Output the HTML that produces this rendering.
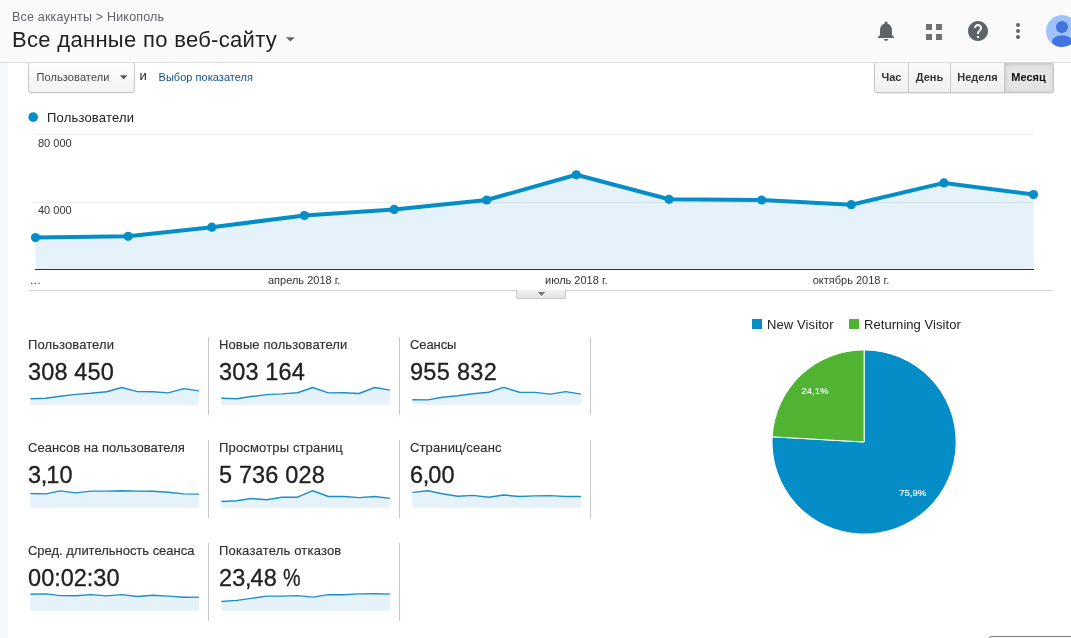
<!DOCTYPE html>
<html lang="ru"><head><meta charset="utf-8"><title>Analytics</title>
<style>
html,body{margin:0;padding:0}
body{width:1071px;height:638px;overflow:hidden;background:#fff;position:relative;font-family:"Liberation Sans",sans-serif;color:#222}
.abs{position:absolute;white-space:nowrap}
#hdr{position:absolute;left:0;top:0;width:1071px;height:62px;background:#fafafa}
#hb{position:absolute;left:0;top:62px;width:1071px;height:1px;background:#dadce0;z-index:5}
#strip{position:absolute;left:0;top:63px;width:8px;height:575px;background:#f7f8fa}
#crumb{left:12px;top:9px;font-size:12.5px;line-height:16px;color:#5f6368;letter-spacing:.19px}
#title{left:12px;top:26px;font-size:22px;line-height:28px;color:#202124;letter-spacing:.31px}
#dd{left:28px;top:62px;width:105px;height:29px;border:1px solid #c8c8c8;border-radius:3px;background:linear-gradient(#fefefe,#f2f2f2);box-shadow:0 1px 1px rgba(0,0,0,.06)}
#ddt{left:36.5px;top:70px;font-size:11px;line-height:14px;color:#444;letter-spacing:.1px}
#and{left:139.5px;top:69px;font-size:13px;line-height:14px;color:#222}
#lnk{left:158.5px;top:70px;font-size:11px;line-height:14px;color:#11508f;letter-spacing:.04px}
#seg{left:874px;top:62px;height:29px;width:178px;border:1px solid #c6c6c6;border-radius:3px;background:linear-gradient(#fafafa,#f0f0f0);box-shadow:0 1px 1px rgba(0,0,0,.08);overflow:hidden}
#seg i{position:absolute;top:0;width:1px;height:29px;background:#c9c9c9}
#seg b{position:absolute;left:130px;top:0;width:49px;height:29px;background:#e4e4e4;box-shadow:inset 0 1px 4px rgba(0,0,0,.18)}
.sb{position:absolute;top:63px;z-index:2;height:29px;font-size:11px;font-weight:bold;line-height:29px;text-align:center;color:#333}
#leg{left:47px;top:110px;font-size:13px;line-height:16px;color:#222;letter-spacing:.19px}
.ax{font-size:11px;line-height:13px;color:#333}
.tile{position:absolute;width:180px;height:78px;border-right:1px solid #c8c8c8}
.tl{position:absolute;left:0;top:0;font-size:13px;line-height:16px;color:#303030;white-space:nowrap;-webkit-text-stroke:.15px #303030}
.tv{position:absolute;left:0;top:20px;font-size:23.5px;line-height:30px;color:#212121;white-space:nowrap;letter-spacing:.15px;-webkit-text-stroke:.3px #212121}
.t0{letter-spacing:0.1px}.t1{letter-spacing:0.12px}.t2{letter-spacing:-0.1px}.t3{letter-spacing:0.05px}.t4{letter-spacing:0.16px}.t5{letter-spacing:0.13px}.t6{letter-spacing:-0.02px}.t7{letter-spacing:0.19px}
.tv s{text-decoration:none;margin:0 -1.3px 0 -.4px}.tv u{text-decoration:none;margin:0 -.25px}.tv i{font-style:normal;display:inline-block;transform:scaleX(.84);transform-origin:0 50%}.tv em{font-style:normal;margin-right:-.4px}.v2{letter-spacing:.3px}
svg{position:absolute;left:0;top:0}
.sa{fill:#e6f2fa}.sl{fill:none;stroke:#1a8fc9;stroke-width:1.45;stroke-linejoin:round}
.pl{font-size:13px;line-height:16px;color:#222}
.pp{font-size:9.5px;line-height:11px;color:#fff;-webkit-text-stroke:.2px #fff}
#tab{left:516px;top:290px;width:48px;height:8px;border:1px solid #c9c9c9;border-top:0;border-radius:0 0 2px 2px;background:linear-gradient(#f1f1f1,#e3e3e3)}
</style></head><body>
<div id="hdr"></div><div id="hb"></div>
<div id="strip"></div>
<div id="crumb" class="abs">Все аккаунты &gt; Никополь</div>
<div id="title" class="abs">Все данные по веб-сайту</div>

<div id="dd" class="abs"></div>
<div id="ddt" class="abs">Пользователи</div>
<div id="and" class="abs">и</div>
<div id="lnk" class="abs">Выбор показателя</div>

<div id="seg" class="abs"><b></b><i style="left:33px"></i><i style="left:75px"></i><i style="left:129px"></i></div>
<div class="sb" style="left:875px;width:33px">Час</div>
<div class="sb" style="left:909px;width:41px">День</div>
<div class="sb" style="left:951px;width:53px">Неделя</div>
<div class="sb" style="left:1005px;width:47px;color:#111">Месяц</div>

<div id="tab" class="abs"></div>
<div id="leg" class="abs">Пользователи</div>
<div class="abs ax" style="left:38px;top:137px">80 000</div>
<div class="abs ax" style="left:38px;top:204px">40 000</div>
<div class="abs ax" style="left:30.3px;top:274px;letter-spacing:.5px">...</div>
<div class="abs ax" style="left:268px;top:274px">апрель 2018 г.</div>
<div class="abs ax" style="left:545px;top:274px">июль 2018 г.</div>
<div class="abs ax" style="left:812.7px;top:274px">октябрь 2018 г.</div>

<svg width="1071" height="638" viewBox="0 0 1071 638">
 <!-- header icons -->
 <g id="icons">
  <path d="M286 37.2h8.8l-4.4 4.4z" fill="#5f6368"/>
  <g transform="translate(874,19)" fill="#5f6368"><path d="M12 22c1.1 0 2-.9 2-2h-4c0 1.1.89 2 2 2zm6-6v-5c0-3.070-1.640-5.640-4.500-6.320V4c0-.830-.670-1.500-1.500-1.500s-1.500.670-1.500 1.500v.680C7.630 5.360 6 7.920 6 11v5l-2 2v1h16v-1l-2-2z"/></g>
  <g fill="#717171"><rect x="926" y="24" width="6" height="6"/><rect x="936" y="24" width="6" height="6"/><rect x="926" y="34" width="6" height="6"/><rect x="936" y="34" width="6" height="6"/></g>
  <g transform="translate(966,19)" fill="#5f6368"><path d="M12 2C6.480 2 2 6.480 2 12s4.480 10 10 10 10-4.480 10-10S17.520 2 12 2zm1 17h-2v-2h2v2zm2.070-7.750l-.9.920C13.450 12.900 13 13.500 13 15h-2v-.500c0-1.100.450-2.100 1.170-2.830l1.240-1.260c.370-.360.590-.860.590-1.410 0-1.100-.9-2-2-2s-2 .9-2 2H8c0-2.210 1.790-4 4-4s4 1.790 4 4c0 .880-.360 1.680-.930 2.250z"/></g>
  <g fill="#5f6368"><circle cx="1018" cy="25" r="2"/><circle cx="1018" cy="31" r="2"/><circle cx="1018" cy="37" r="2"/></g>
  <clipPath id="av"><circle cx="1062" cy="31" r="16"/></clipPath>
  <circle cx="1062" cy="31" r="16" fill="#a0c3ff"/>
  <g clip-path="url(#av)" fill="#4374e0"><circle cx="1062" cy="27" r="6.100"/><ellipse cx="1062" cy="41.500" rx="10" ry="6.200"/></g>
 </g>
 <!-- main chart -->
 <rect x="35" y="134" width="999" height="1" fill="#ececec"/>
 <polygon points="35.5,269.2 35.5,237.6 128.1,236.3 211.8,227.2 304.4,215.5 394.1,209.4 486.7,200.0 576.3,174.8 669.0,199.3 761.6,200.0 851.2,204.7 943.9,182.9 1033.5,194.6 1033.5,269.2" fill="#e6f2fa"/>
 <rect x="35" y="202" width="999" height="1" fill="#000" opacity=".075"/>
 <rect x="35" y="269" width="999" height="1" fill="#333"/>
 <polyline points="35.5,237.6 128.1,236.3 211.8,227.2 304.4,215.5 394.1,209.4 486.7,200.0 576.3,174.8 669.0,199.3 761.6,200.0 851.2,204.7 943.9,182.9 1033.5,194.6" fill="none" stroke="#058dc7" stroke-width="4" stroke-linejoin="round"/>
 <g fill="#058dc7"><circle cx="35.5" cy="237.6" r="4.6"/><circle cx="128.1" cy="236.3" r="4.6"/><circle cx="211.8" cy="227.2" r="4.6"/><circle cx="304.4" cy="215.5" r="4.6"/><circle cx="394.1" cy="209.4" r="4.6"/><circle cx="486.7" cy="200.0" r="4.6"/><circle cx="576.3" cy="174.8" r="4.6"/><circle cx="669.0" cy="199.3" r="4.6"/><circle cx="761.6" cy="200.0" r="4.6"/><circle cx="851.2" cy="204.7" r="4.6"/><circle cx="943.9" cy="182.9" r="4.6"/><circle cx="1033.5" cy="194.6" r="4.6"/></g>
 <circle cx="33.2" cy="117.1" r="4.85" fill="#058dc7"/>
 <path d="M120 75.2h7.4l-3.7 4.4z" fill="#555"/>
 <rect x="29" y="290" width="487" height="1" fill="#d0d0d0"/><rect x="566" y="290" width="487" height="1" fill="#d0d0d0"/>
 <path d="M537.8 293.2h7.4l-3.7 4.2z" fill="#fff"/><path d="M537.8 292h7.4l-3.7 4.2z" fill="#777"/>
 <!-- sparks -->
 <polygon class="sa" points="30.4,404.7 30.4,398.7 46.0,398.3 60.2,396.3 75.8,394.4 90.9,393.3 106.6,391.8 121.7,387.5 137.4,391.6 153.0,391.8 168.1,392.9 183.8,388.6 198.9,390.9 198.9,404.7"/><polyline class="sl" points="30.4,398.7 46.0,398.3 60.2,396.3 75.8,394.4 90.9,393.3 106.6,391.8 121.7,387.5 137.4,391.6 153.0,391.8 168.1,392.9 183.8,388.6 198.9,390.9"/>
<polygon class="sa" points="221.4,404.7 221.4,398.3 237.0,398.7 251.2,396.5 266.8,394.6 281.9,393.9 297.6,392.7 312.7,387.5 328.4,392.9 344.0,392.7 359.1,393.5 374.8,387.5 389.9,390.1 389.9,404.7"/><polyline class="sl" points="221.4,398.3 237.0,398.7 251.2,396.5 266.8,394.6 281.9,393.9 297.6,392.7 312.7,387.5 328.4,392.9 344.0,392.7 359.1,393.5 374.8,387.5 389.9,390.1"/>
<polygon class="sa" points="412.4,404.7 412.4,399.8 428.0,399.9 442.2,397.2 457.8,395.8 472.9,393.8 488.6,392.2 503.7,387.4 519.4,392.2 535.0,392.4 550.1,394.1 565.8,391.6 580.9,394.1 580.9,404.7"/><polyline class="sl" points="412.4,399.8 428.0,399.9 442.2,397.2 457.8,395.8 472.9,393.8 488.6,392.2 503.7,387.4 519.4,392.2 535.0,392.4 550.1,394.1 565.8,391.6 580.9,394.1"/>
<polygon class="sa" points="30.4,507.7 30.4,493.5 46.0,493.9 60.2,490.9 75.8,492.9 90.9,491.1 106.6,491.1 121.7,490.7 137.4,491.1 153.0,491.3 168.1,492.2 183.8,493.9 198.9,494.1 198.9,507.7"/><polyline class="sl" points="30.4,493.5 46.0,493.9 60.2,490.9 75.8,492.9 90.9,491.1 106.6,491.1 121.7,490.7 137.4,491.1 153.0,491.3 168.1,492.2 183.8,493.9 198.9,494.1"/>
<polygon class="sa" points="221.4,507.7 221.4,501.5 237.0,500.8 251.2,498.5 266.8,499.7 281.9,497.2 297.6,497.2 312.7,490.7 328.4,496.5 344.0,496.5 359.1,497.6 374.8,496.5 389.9,498.4 389.9,507.7"/><polyline class="sl" points="221.4,501.5 237.0,500.8 251.2,498.5 266.8,499.7 281.9,497.2 297.6,497.2 312.7,490.7 328.4,496.5 344.0,496.5 359.1,497.6 374.8,496.5 389.9,498.4"/>
<polygon class="sa" points="412.4,507.7 412.4,492.4 428.0,490.7 442.2,493.7 457.8,496.3 472.9,495.4 488.6,497.2 503.7,495.0 519.4,496.5 535.0,495.9 550.1,495.6 565.8,496.5 580.9,496.5 580.9,507.7"/><polyline class="sl" points="412.4,492.4 428.0,490.7 442.2,493.7 457.8,496.3 472.9,495.4 488.6,497.2 503.7,495.0 519.4,496.5 535.0,495.9 550.1,495.6 565.8,496.5 580.9,496.5"/>
<polygon class="sa" points="30.4,610.7 30.4,594.3 46.0,593.9 60.2,595.6 75.8,595.8 90.9,594.6 106.6,595.9 121.7,594.6 137.4,596.5 153.0,595.2 168.1,596.1 183.8,597.3 198.9,597.1 198.9,610.7"/><polyline class="sl" points="30.4,594.3 46.0,593.9 60.2,595.6 75.8,595.8 90.9,594.6 106.6,595.9 121.7,594.6 137.4,596.5 153.0,595.2 168.1,596.1 183.8,597.3 198.9,597.1"/>
<polygon class="sa" points="221.4,610.7 221.4,601.5 237.0,600.4 251.2,598.4 266.8,596.1 281.9,596.1 297.6,595.6 312.7,597.1 328.4,594.6 344.0,594.8 359.1,593.9 374.8,593.7 389.9,594.1 389.9,610.7"/><polyline class="sl" points="221.4,601.5 237.0,600.4 251.2,598.4 266.8,596.1 281.9,596.1 297.6,595.6 312.7,597.1 328.4,594.6 344.0,594.8 359.1,593.9 374.8,593.7 389.9,594.1"/>

 <!-- pie -->
 <g id="pie"><path d="M864.1,442.0L864.1,349.90A92.1,92.1 0 1 1 772.15,436.79Z" fill="#058dc7" stroke="#fff" stroke-width="1"/>
  <path d="M864.1,442.0L772.15,436.79A92.1,92.1 0 0 1 864.1,349.90Z" fill="#50b432" stroke="#fff" stroke-width="1"/>
  <rect x="752" y="319" width="10" height="10" fill="#058dc7"/>
  <rect x="849" y="319" width="10" height="10" fill="#50b432"/></g>
</svg>
<div class="tile" style="left:28px;top:337px"><div class="tl t0">Пользователи</div><div class="tv v0">308 450</div></div>
<div class="tile" style="left:219px;top:337px"><div class="tl t1">Новые пользователи</div><div class="tv v1">303 164</div></div>
<div class="tile" style="left:410px;top:337px"><div class="tl t2">Сеансы</div><div class="tv v2">955 832</div></div>
<div class="tile" style="left:28px;top:440px"><div class="tl t3">Сеансов на пользователя</div><div class="tv v3">3<s>,</s>10</div></div>
<div class="tile" style="left:219px;top:440px"><div class="tl t4">Просмотры страниц</div><div class="tv v4">5 736 028</div></div>
<div class="tile" style="left:410px;top:440px"><div class="tl t5">Страниц/сеанс</div><div class="tv v5">6<s>,</s>00</div></div>
<div class="tile" style="left:28px;top:543px"><div class="tl t6">Сред. длительность сеанса</div><div class="tv v6">00<u>:</u>02<u>:</u>30</div></div>
<div class="tile" style="left:219px;top:543px"><div class="tl t7">Показатель отказов</div><div class="tv v7">23<s>,</s>48<em> </em><i>%</i></div></div>

<div class="abs pl" style="left:767px;top:317px;letter-spacing:.1px">New Visitor</div>
<div class="abs pl" style="left:864px;top:317px;letter-spacing:.06px">Returning Visitor</div>
<div class="abs pp" style="left:801.5px;top:385.2px">24,1%</div>
<div class="abs pp" style="left:899.3px;top:487.2px">75,9%</div>
<div class="abs" style="left:988px;top:636px;width:100px;height:10px;border:1px solid #777;border-radius:4px;background:#fff"></div>
</body></html>
